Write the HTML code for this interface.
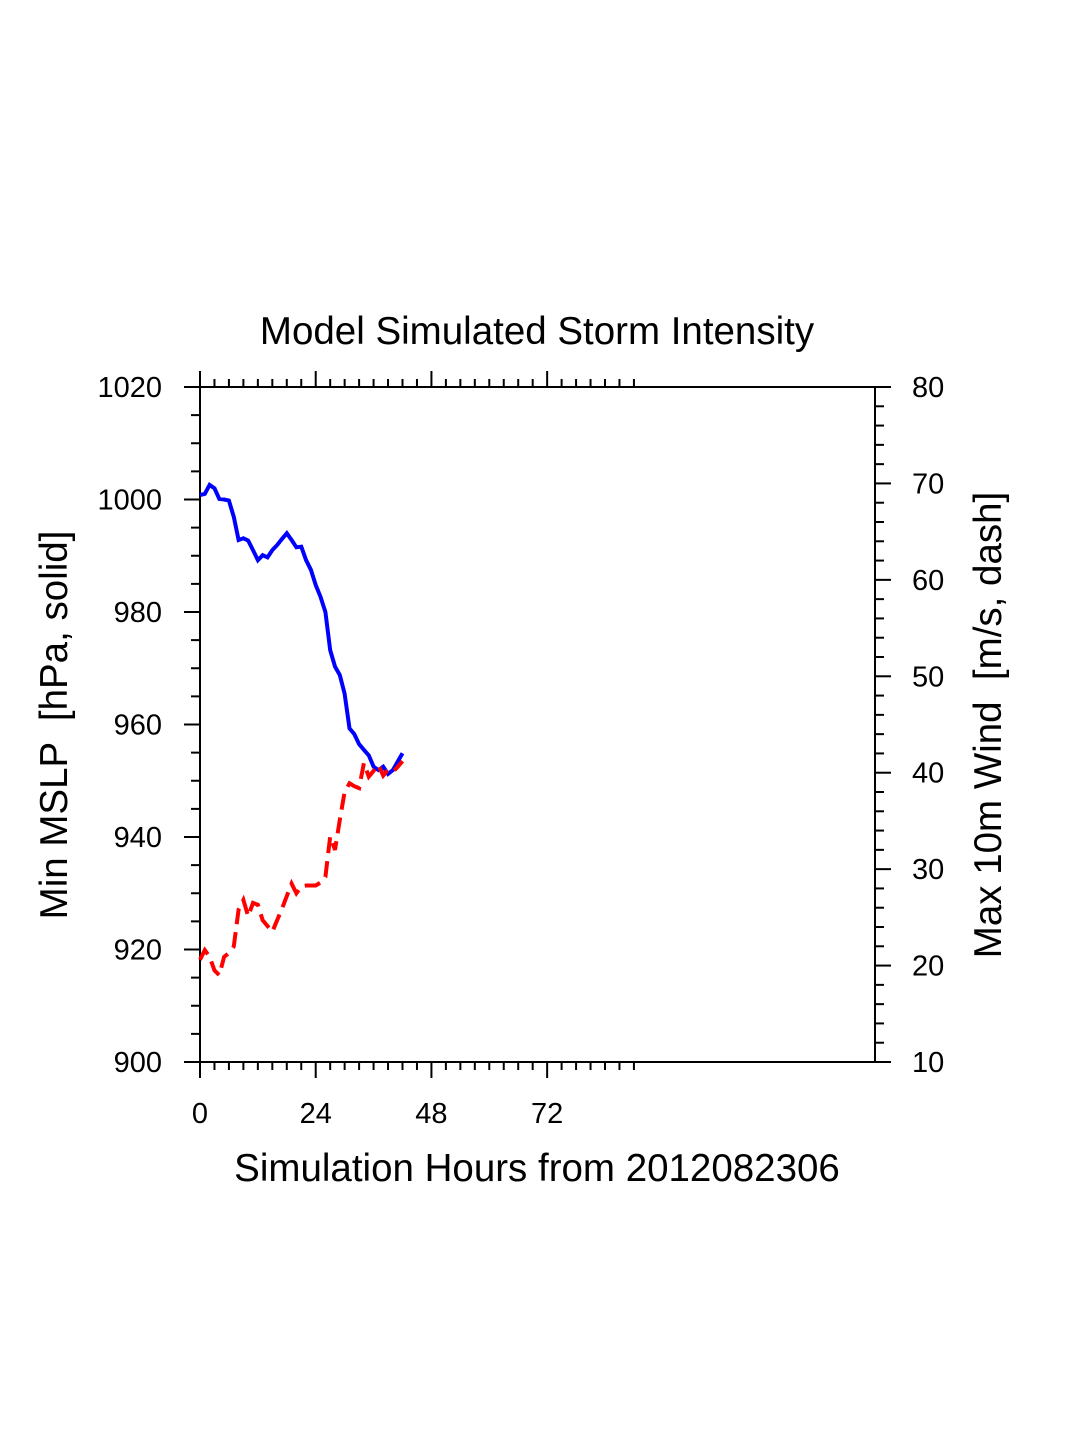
<!DOCTYPE html>
<html><head><meta charset="utf-8"><style>
body{margin:0;background:#fff}
svg text{font-family:"Liberation Sans",sans-serif;fill:#000;white-space:pre}
</style></head><body>
<svg id="chart" width="1075" height="1450" xmlns="http://www.w3.org/2000/svg">
<text x="537" y="344" font-size="38.5" text-anchor="middle">Model Simulated Storm Intensity</text>
<rect x="200" y="387" width="675" height="675" fill="none" stroke="#000" stroke-width="2"/>
<g id="ticks"></g>
<g id="series"></g>
<text x="537" y="1181" font-size="38.5" text-anchor="middle">Simulation Hours from 2012082306</text>
<text transform="translate(67,725) rotate(-90)" font-size="38.5" text-anchor="middle">Min MSLP  [hPa, solid]</text>
<text transform="translate(1001,725) rotate(-90)" font-size="38.5" text-anchor="middle">Max 10m Wind  [m/s, dash]</text>
</svg>
<script>
const hours=[0,1,2,3,4,5,6,7,8,9,10,11,12,13,14,15,16,17,18,19,20,21,22,23,24,25,26,27,28,29,30,31,32,33,34,35,36,37,38,39,40,41,42];
const mslp=[1000.8,1001,1002.6,1002,1000.1,1000,999.8,996.9,992.8,993.1,992.7,991,989.2,990.1,989.7,991,991.9,993,994,992.8,991.5,991.6,989.2,987.5,984.8,982.7,980,973.2,970.3,968.8,965.5,959.3,958.3,956.5,955.5,954.5,952.5,951.9,952.5,951.2,951.9,953.4,954.9];
const wind=[20.6,21.6,20.9,19.5,19.0,20.9,21.3,22.0,25.8,26.8,25.1,26.5,26.3,24.7,24.1,23.5,24.7,25.9,27.2,28.5,27.5,28.2,28.3,28.3,28.3,28.6,29.2,33.4,32.0,35.1,38.0,38.9,38.6,38.4,41.0,39.6,40.2,40.8,39.7,40.3,40.1,40.6,41.2];
const xTicks=[0,24,48,72];
const leftTicks=[900,920,940,960,980,1000,1020];
const rightTicks=[10,20,30,40,50,60,70,80];
const L=200,R=875,T=387,B=1062;
const xS=h=>L+h*(R-L)/140;
const yL=p=>B-(p-900)*(B-T)/120;
const yR=w=>B-(w-10)*(B-T)/70;
const NS="http://www.w3.org/2000/svg";
const tg=document.getElementById('ticks'), sg=document.getElementById('series');
function ln(x1,y1,x2,y2,name){const e=document.createElementNS(NS,'line');
e.setAttribute('x1',x1);e.setAttribute('y1',y1);e.setAttribute('x2',x2);e.setAttribute('y2',y2);
e.setAttribute('stroke','#000');e.setAttribute('stroke-width','2');


tg.appendChild(e);}
function tx(x,y,s,anchor,name){const e=document.createElementNS(NS,'text');
e.setAttribute('x',x);e.setAttribute('y',y);e.setAttribute('font-size','29');e.setAttribute('text-anchor',anchor);e.textContent=s;


tg.appendChild(e);}
for(let h=0;h<=90;h+=3){const x=xS(h);const maj=h%24===0;
ln(x,B,x,B+(maj?16:8),'x-tick');ln(x,T,x,T-(maj?16:8),'x-tick-top');}
xTicks.forEach(h=>tx(xS(h),1123,String(h),'middle','x-tick-label'));
for(let p=900;p<=1020;p+=5){const y=yL(p);ln(L,y,L-(p%20===0?16:9),y,'left-tick');}
leftTicks.forEach(p=>tx(162,yL(p)+10,String(p),'end','left-tick-label'));
for(let w=10;w<=80;w+=2){const y=yR(w);ln(R,y,R+(w%10===0?16:9),y,'right-tick');}
rightTicks.forEach(w=>tx(912,yR(w)+10,String(w),'start','right-tick-label'));
function path(vals,f,color,dash,name){const e=document.createElementNS(NS,'path');
e.setAttribute('d',vals.map((v,i)=>(i?'L':'M')+xS(hours[i]).toFixed(1)+','+f(v).toFixed(1)).join(''));
e.setAttribute('fill','none');e.setAttribute('stroke',color);e.setAttribute('stroke-width','4');
if(dash)e.setAttribute('stroke-dasharray',dash);


sg.appendChild(e);}
path(mslp,yL,'#0000ff',null,'mslp-line');
path(wind,yR,'#ff0000','16 8','wind-line');
</script>
</body></html>
